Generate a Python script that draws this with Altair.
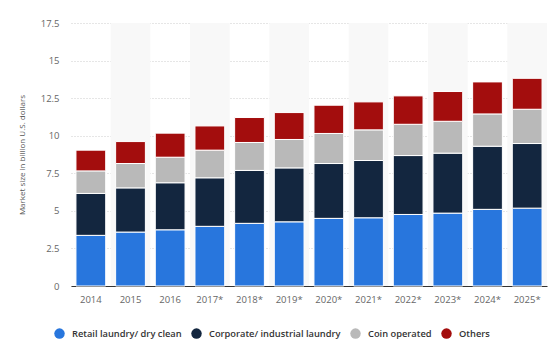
import altair as alt
import pandas as pd

years = ["2014", "2015", "2016", "2017*", "2018*", "2019*", "2020*", "2021*", "2022*", "2023*", "2024*", "2025*"]
series = ["Retail laundry/ dry clean", "Corporate/ industrial laundry", "Coin operated", "Others"]
retail = [3.37, 3.59, 3.74, 3.97, 4.17, 4.27, 4.50, 4.54, 4.76, 4.85, 5.10, 5.18]
corporate = [2.79, 2.94, 3.13, 3.23, 3.52, 3.59, 3.65, 3.81, 3.92, 3.99, 4.20, 4.30]
coin = [1.50, 1.62, 1.70, 1.84, 1.86, 1.89, 2.00, 2.04, 2.08, 2.12, 2.15, 2.28]
others = [1.38, 1.46, 1.60, 1.61, 1.66, 1.79, 1.88, 1.86, 1.89, 1.98, 2.13, 2.06]
colors = ["#2876dd", "#13263f", "#b9b9b9", "#a30d0d"]
y_ticks = [0, 2.5, 5, 7.5, 10, 12.5, 15, 17.5]

rows = []
for i, y in enumerate(years):
    for k, (name, vals) in enumerate(zip(series, [retail, corporate, coin, others])):
        rows.append({"year": y, "series": name, "value": vals[i], "order": k})
df = pd.DataFrame(rows)

shade_years = [y for i, y in enumerate(years) if i % 2 == 1]
shade = pd.DataFrame({"year": shade_years})

bands = alt.Chart(shade).mark_rect(color="#f8f8f8").encode(
    x=alt.X("year:N", scale=alt.Scale(domain=years, paddingInner=0, paddingOuter=0), axis=None),
)

bars = alt.Chart(df).mark_bar(stroke="white", strokeWidth=1).encode(
    x=alt.X("year:N", sort=years, title=None,
            scale=alt.Scale(paddingInner=0.25, paddingOuter=0.125),
            axis=alt.Axis(labelAngle=0, labelColor="#666666", labelFontSize=9.5, labelFont="Open Sans",
                          ticks=False, domainColor="#333333", domainWidth=1.2, labelPadding=8, grid=False)),
    y=alt.Y("value:Q", stack="zero", title="Market size in billion U.S. dollars",
            scale=alt.Scale(domain=[0, 17.5], nice=False),
            axis=alt.Axis(values=y_ticks, labelOverlap=False,
                          labelExpr="format(datum.value, '.1~f')",
                          labelColor="#666666", labelFontSize=9.5,
                          labelFont="Open Sans", ticks=False, domain=False, labelPadding=12,
                          gridColor="#cccccc", gridDash=[1, 2], gridWidth=1,
                          titleFontSize=8, titleColor="#555555", titleFontWeight="normal",
                          titleFont="Open Sans", titlePadding=14)),
    color=alt.Color("series:N", sort=series, scale=alt.Scale(domain=series, range=colors),
                    legend=alt.Legend(title=None, orient="none", legendX=-17, legendY=305, direction="horizontal",
                                      symbolType="circle", symbolSize=110, symbolStrokeWidth=0,
                                      labelFontSize=9.3, labelFont="Open Sans", labelFontWeight=600,
                                      labelColor="#333333", labelOffset=7,
                                      columnPadding=9, labelLimit=300)),
    order=alt.Order("order:Q"),
)

chart = alt.layer(bands, bars).resolve_scale(x="independent").properties(
    width=476, height=263,
    padding={"left": 71, "top": 23, "right": 11, "bottom": 61},
    autosize=alt.AutoSizeParams(type="none"),
).configure_view(stroke=None)

chart.save("out.html", embed_options={"renderer": "svg", "actions": False})
